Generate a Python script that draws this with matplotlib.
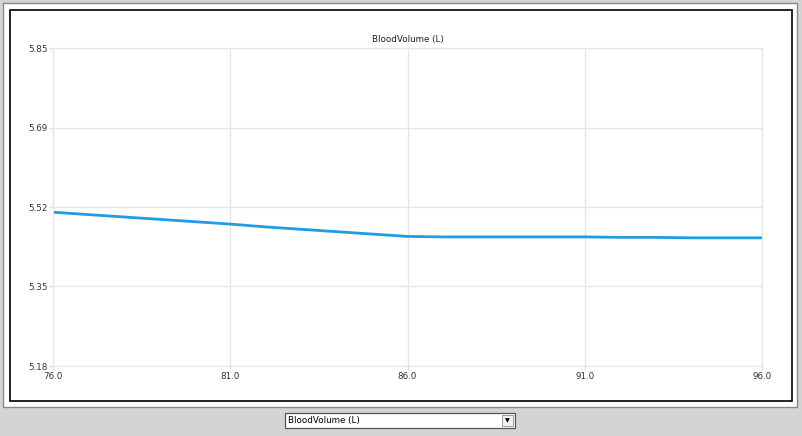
"""
Blood volume trace, drawn like the monitor panel it came from.
"""
import matplotlib
matplotlib.use("Agg")
import matplotlib.pyplot as plt
from matplotlib.patches import Rectangle
import numpy as np

# ---------------------------------------------------------------------------
# data
# ---------------------------------------------------------------------------
time_s = [76, 77, 78, 79, 80, 81, 82, 83, 84, 85, 86,
          87, 88, 89, 90, 91, 92, 93, 94, 95, 96]
blood_volume = [5.504, 5.499, 5.494, 5.489, 5.484, 5.479, 5.473, 5.468, 5.463, 5.458, 5.453,
                5.452, 5.452, 5.452, 5.452, 5.452, 5.451, 5.451, 5.450, 5.450, 5.450]
x_ticks = [76.0, 81.0, 86.0, 91.0, 96.0]
y_min, y_max = 5.18, 5.85
y_tick_labels = ["5.18", "5.35", "5.52", "5.69", "5.85"]
title = "BloodVolume (L)"

W, H = 802, 436


def fx(px):
    return px / W


def fy(py):
    return 1 - py / H


fig = plt.figure(figsize=(W / 100, H / 100), dpi=100)
fig.patch.set_facecolor("#D4D4D4")

# ------------------------------------------------------------------ panel frame
fig.add_artist(Rectangle((fx(3), fy(407)), fx(794), 404 / H, transform=fig.transFigure,
                         facecolor="white", edgecolor="#8A8A8A", linewidth=1.0, zorder=0))
fig.add_artist(Rectangle((fx(10), fy(401)), fx(782), 391 / H, transform=fig.transFigure,
                         facecolor="none", edgecolor="black", linewidth=1.2, zorder=1))

# ------------------------------------------------------------------ plot
ax = fig.add_axes([fx(53), fy(366), fx(709), 318 / H])
ax.set_facecolor("white")
ax.plot(time_s, blood_volume, color="#1E9DE2", linewidth=2.0, solid_capstyle="butt")

ax.set_yticks(np.linspace(y_min, y_max, len(y_tick_labels)))
ax.set_yticklabels(y_tick_labels)
ax.set_xticks(x_ticks)
ax.set_xticklabels([f"{v:.1f}" for v in x_ticks])
ax.set_xlim(x_ticks[0], x_ticks[-1])
ax.set_ylim(y_min, y_max)

ax.grid(True, color="#E6E6E6", linewidth=1.0)
ax.set_axisbelow(True)
for s in ax.spines.values():
    s.set_color("#E6E6E6")
ax.tick_params(axis="both", colors="#E0E0E0", length=3, width=1, labelsize=6.3,
               labelcolor="#333333", pad=1)
ax.set_title(title, fontsize=6.3, color="#222222", pad=4)

# ------------------------------------------------------------------ dropdown
fig.add_artist(Rectangle((fx(285), fy(428)), fx(230), 15 / H, transform=fig.transFigure,
                         facecolor="white", edgecolor="#555555", linewidth=0.9))
fig.add_artist(Rectangle((fx(502), fy(426)), fx(11), 11 / H, transform=fig.transFigure,
                         facecolor="#F0F0F0", edgecolor="#909090", linewidth=0.6))
fig.text(fx(288), fy(420.5), title, fontsize=6.3, va="center", ha="left", color="black")
fig.text(fx(507.5), fy(420.5), "\u25BC", fontsize=4.5, va="center", ha="center", color="black")

fig.savefig("out.png", dpi=100)
